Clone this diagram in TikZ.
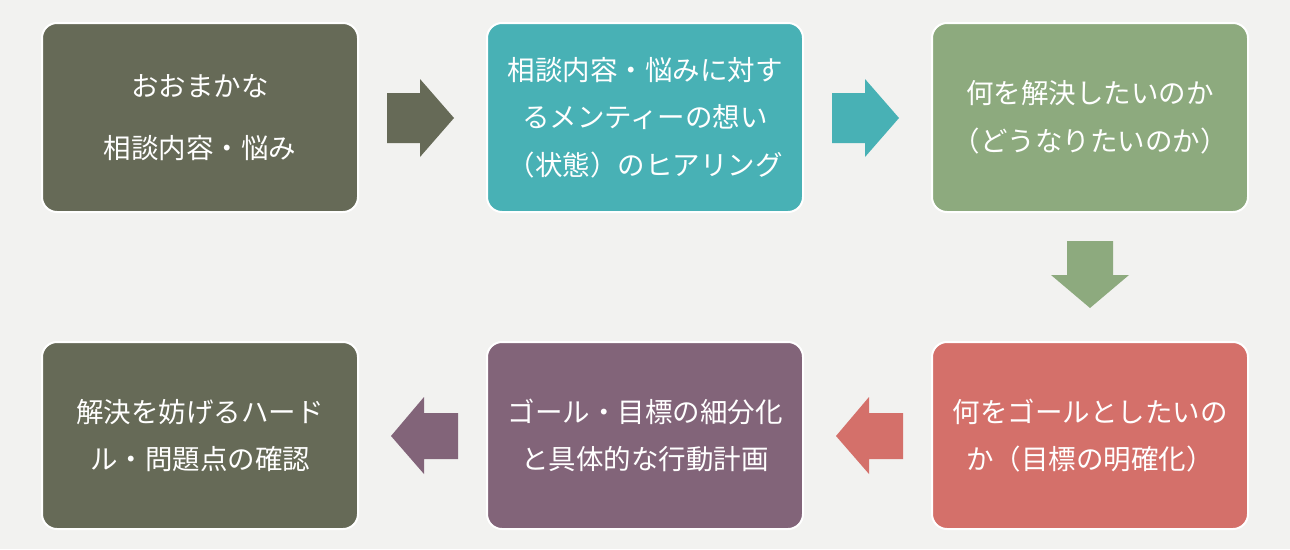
\documentclass[tikz,border=0pt]{standalone}
\usepackage{fontspec}
\newfontfamily\jp{Noto Sans CJK JP}
\definecolor{bgc}{HTML}{F2F2F0}
\definecolor{olive}{HTML}{666A57}
\definecolor{teal2}{HTML}{48B1B5}
\definecolor{green2}{HTML}{8DAA7E}
\definecolor{red2}{HTML}{D4706A}
\definecolor{purple2}{HTML}{826479}
\tikzset{
  stepbox/.style={draw=white, line width=2pt, rounded corners=15pt, minimum width=316pt, minimum height=189pt, inner sep=0pt, text=white, align=center, font=\jp\fontsize{27.5}{47.5}\selectfont}
}
\begin{document}
\begin{tikzpicture}[x=1pt,y=-1pt]
\fill[bgc] (0,0) rectangle (1290,549);
\useasboundingbox (0,0) rectangle (1290,549);
\node[stepbox, fill=olive] (b1) at (200,117.5) {おおまかな\\[15pt]相談内容・悩み};
\node[stepbox, fill=teal2] (b2) at (645,117.5) {相談内容・悩みに対す\\るメンティーの想い\\（状態）のヒアリング};
\node[stepbox, fill=green2] (b3) at (1090,117.5) {何を解決したいのか\\（どうなりたいのか）};
\node[stepbox, fill=red2, minimum height=187pt] (b4) at (1090,435.5) {何をゴールとしたいの\\か（目標の明確化）};
\node[stepbox, fill=purple2, minimum height=187pt] (b5) at (645,435.5) {ゴール・目標の細分化\\と具体的な行動計画};
\node[stepbox, fill=olive, minimum height=187pt] (b6) at (200,435.5) {解決を妨げるハード\\ル・問題点の確認};
% right arrows
\coordinate (a1) at (387,118);
\coordinate (a2) at (832,118);
\fill[olive] (a1) ++(0,-25) -- ++(33,0) -- ++(0,-14) -- ++(34,39) -- ++(-34,39) -- ++(0,-14) -- ++(-33,0) -- cycle;
\fill[teal2] (a2) ++(0,-25) -- ++(33,0) -- ++(0,-14) -- ++(34,39) -- ++(-34,39) -- ++(0,-14) -- ++(-33,0) -- cycle;
% down arrow
\coordinate (a3) at (1090,241);
\fill[green2] (a3) ++(-23,0) -- ++(46,0) -- ++(0,34) -- ++(16,0) -- ++(-39,33) -- ++(-39,-33) -- ++(16,0) -- cycle;
% left arrows
\coordinate (a4) at (903,436);
\coordinate (a5) at (458,436);
\fill[red2] (a4) ++(0,-23) -- ++(-34,0) -- ++(0,-16) -- ++(-33,39) -- ++(33,38) -- ++(0,-15) -- ++(34,0) -- cycle;
\fill[purple2] (a5) ++(0,-23) -- ++(-34,0) -- ++(0,-16) -- ++(-33,39) -- ++(33,38) -- ++(0,-15) -- ++(34,0) -- cycle;
\end{tikzpicture}
\end{document}
